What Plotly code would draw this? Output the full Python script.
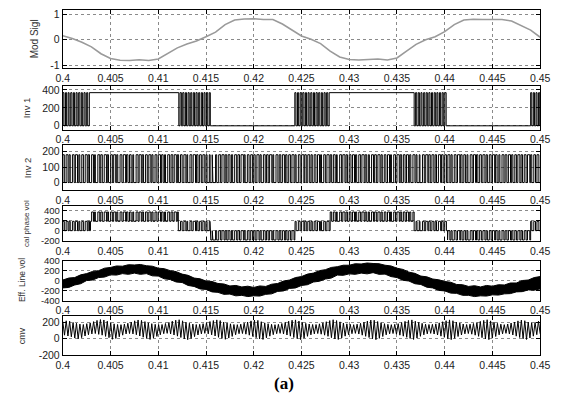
import numpy as np
import plotly.graph_objects as go

W, H = 573, 405
T0 = 0.4  # s, start of the time window; all data times below are in ms after T0

# ---------------- tick labels ----------------
x_tick_vals = [0.4, 0.405, 0.41, 0.415, 0.42, 0.425, 0.43, 0.435, 0.44, 0.445, 0.45]
x_tick_text = ["0.4", "0.405", "0.41", "0.415", "0.42", "0.425", "0.43", "0.435", "0.44", "0.445", "0.45"]

# ---------------- Mod Sigl (sampled every 1 ms) ----------------
mod_t_ms = list(range(0, 51))
mod_signal = [0.16, 0.05, -0.10, -0.28, -0.55, -0.74, -0.81, -0.82, -0.79, -0.82,
              -0.76, -0.55, -0.32, -0.17, -0.05, 0.12, 0.30, 0.60, 0.78, 0.82,
              0.83, 0.80, 0.80, 0.62, 0.38, 0.15, 0.02, -0.15, -0.45, -0.68,
              -0.78, -0.80, -0.78, -0.76, -0.80, -0.72, -0.45, -0.18, 0.00, 0.12,
              0.32, 0.60, 0.78, 0.81, 0.80, 0.81, 0.80, 0.74, 0.57, 0.38, 0.10]

# ---------------- Inv 1: high intervals (ms) ----------------
inv1_level = 370
inv1_on_ms = [
    (0.00, 0.12), (0.28, 0.40), (0.56, 0.66), (0.83, 0.96), (1.11, 1.22), (1.39, 1.50),
    (1.66, 1.79), (1.94, 2.05), (2.22, 2.34), (2.50, 2.61), (2.78, 12.15),
    (12.28, 12.42), (12.56, 12.69), (12.84, 12.96), (13.12, 13.24), (13.40, 13.51),
    (13.67, 13.80), (13.95, 14.07), (14.23, 14.34), (14.51, 14.63), (14.79, 14.90),
    (15.06, 15.18), (15.34, 15.45),
    (24.30, 24.42), (24.58, 24.70), (24.86, 24.97), (25.13, 25.26), (25.41, 25.53),
    (25.69, 25.80), (25.97, 26.09), (26.25, 26.36), (26.52, 26.65), (26.80, 26.92),
    (27.08, 27.19), (27.36, 27.48), (27.63, 27.75), (27.90, 36.80),
    (36.95, 37.07), (37.23, 37.35), (37.51, 37.62), (37.79, 37.91), (38.06, 38.18),
    (38.34, 38.46), (38.62, 38.73), (38.90, 39.02), (39.18, 39.29), (39.45, 39.57),
    (39.73, 39.85), (40.01, 40.15),
    (49.00, 49.12), (49.28, 49.40), (49.56, 49.67), (49.83, 49.95),
]

# ---------------- Inv 2: pulse starts and widths (ms) ----------------
inv2_level = 180
inv2_start_ms = [
    0.00, 0.35, 0.66, 1.01, 1.32, 1.68, 1.99, 2.35, 2.66, 3.02, 3.33, 3.67, 3.98, 4.34, 4.66,
    5.01, 5.33, 5.65, 6.00, 6.34, 6.67, 6.99, 7.33, 7.68, 8.00, 8.32, 8.67, 9.01, 9.33, 9.66,
    10.00, 10.35, 10.66, 10.99, 11.34, 11.67, 12.00, 12.33, 12.68, 13.00, 13.32, 13.66, 14.01, 14.33, 14.67,
    15.00, 15.34, 15.65, 16.00, 16.33, 16.67, 17.01, 17.32, 17.66, 18.00, 18.34, 18.67, 19.00, 19.33, 19.68,
    20.00, 20.33, 20.66, 21.01, 21.34, 21.66, 22.00, 22.33, 22.67, 23.00, 23.34, 23.66, 24.00, 24.33, 24.67,
    25.01, 25.34, 25.66, 26.00, 26.33, 26.68, 27.00, 27.33, 27.66, 28.01, 28.34, 28.66, 29.00, 29.33, 29.67,
    30.00, 30.34, 30.66, 31.00, 31.33, 31.67, 32.00, 32.34, 32.66, 33.00, 33.33, 33.67, 34.01, 34.33, 34.66,
    35.00, 35.34, 35.67, 36.00, 36.33, 36.67, 37.00, 37.33, 37.67, 38.01, 38.33, 38.66, 39.00, 39.34, 39.67,
    40.00, 40.33, 40.66, 41.00, 41.34, 41.67, 42.00, 42.33, 42.67, 43.01, 43.33, 43.66, 44.00, 44.34, 44.67,
    45.00, 45.33, 45.67, 46.00, 46.33, 46.67, 47.01, 47.34, 47.66, 48.00, 48.33, 48.67, 49.00, 49.33, 49.66,
]
inv2_width_ms = [
    0.16, 0.20, 0.12, 0.18, 0.22, 0.10, 0.17, 0.21, 0.14, 0.19, 0.08, 0.20, 0.16, 0.23, 0.13,
    0.18, 0.21, 0.11, 0.19, 0.24, 0.15, 0.17, 0.09, 0.20, 0.22, 0.14, 0.18, 0.21, 0.12, 0.19,
    0.23, 0.16, 0.10, 0.20, 0.18, 0.22, 0.13, 0.17, 0.21, 0.08, 0.19, 0.24, 0.15, 0.18, 0.20,
    0.11, 0.09, 0.07, 0.12, 0.20, 0.22, 0.16, 0.19, 0.13, 0.21, 0.17, 0.24, 0.10, 0.18, 0.20,
    0.15, 0.22, 0.12, 0.19, 0.17, 0.23, 0.09, 0.20, 0.16, 0.21, 0.14, 0.18, 0.22, 0.11, 0.19,
    0.24, 0.16, 0.20, 0.13, 0.18, 0.21, 0.10, 0.17, 0.23, 0.15, 0.19, 0.08, 0.20, 0.22, 0.14,
    0.18, 0.21, 0.12, 0.19, 0.23, 0.16, 0.11, 0.20, 0.18, 0.22, 0.13, 0.17, 0.21, 0.09, 0.19,
    0.24, 0.15, 0.18, 0.20, 0.12, 0.21, 0.10, 0.08, 0.19, 0.22, 0.16, 0.20, 0.14, 0.23, 0.17,
    0.18, 0.21, 0.12, 0.19, 0.24, 0.15, 0.17, 0.10, 0.20, 0.22, 0.14, 0.18, 0.21, 0.13, 0.19,
    0.23, 0.16, 0.11, 0.20, 0.18, 0.22, 0.13, 0.17, 0.21, 0.15, 0.19, 0.24, 0.12, 0.18, 0.20,
]

# ---------------- cal phase vol: level segments (start ms, end ms, low, high) ----------------
cal_segments = [
    (0.0, 2.9, 0, 185), (2.9, 12.1, 185, 370), (12.1, 15.5, 0, 185),
    (15.5, 24.3, -185, 0), (24.3, 28.0, 0, 185), (28.0, 36.8, 185, 370),
    (36.8, 40.3, 0, 185), (40.3, 49.0, -185, 0), (49.0, 50.01, 0, 185),
]

# ---------------- Eff. Line vol: band envelopes every 0.625 ms ----------------
eff_t_ms = [i * 0.625 for i in range(81)]
eff_upper = [10, 50, 60, 115, 140, 185, 200, 250, 265, 295, 290, 320, 315, 325, 300, 290,
             250, 240, 200, 180, 130, 105, 50, 35, -10, -20, -60, -70, -110, -100, -130, -115,
             -140, -110, -120, -75, -60, -10, 10, 60, 80, 130, 150, 200, 220, 265, 280, 310,
             310, 340, 335, 355, 345, 340, 310, 295, 250, 225, 170, 145, 90, 75, 30, 15,
             -20, -35, -80, -85, -120, -105, -130, -100, -115, -85, -90, -50, -50, 0, 10, 60,
             80]
eff_lower = [-150, -140, -90, -65, 0, 10, 60, 70, 115, 110, 140, 125, 150, 125, 140, 95,
             90, 35, 20, -30, -40, -100, -120, -170, -180, -230, -240, -280, -275, -310, -300, -325,
             -310, -315, -280, -270, -220, -210, -160, -150, -100, -85, -30, -15, 30, 50, 110, 105,
             135, 125, 150, 135, 160, 125, 130, 80, 60, 5, -10, -65, -80, -135, -150, -200,
             -210, -255, -260, -300, -300, -325, -310, -315, -290, -295, -270, -265, -230, -225, -190, -195,
             -170]

# ---------------- cmv: successive peaks and troughs ----------------
cmv_peaks = [
    205, 215, 210, 195, 185, 175, 170, 180, 190, 205, 220, 230,
    225, 210, 190, 178, 170, 168, 175, 185, 200, 215, 225, 220,
    205, 190, 180, 172, 168, 170, 182, 196, 210, 222, 228, 215,
    198, 185, 175, 170, 172, 180, 192, 206, 218, 226, 218, 200,
    188, 178, 170, 168, 174, 186, 200, 214, 224, 220, 204, 190,
    180, 172, 168, 172, 182, 196, 210, 222, 226, 212, 196, 184,
    176, 170, 170, 178, 190, 204, 218, 228, 218, 202, 188, 178,
    172, 168, 174, 184, 198, 212, 224, 222, 206, 192, 180, 172,
    168, 172, 180, 194, 208, 220, 226, 210, 196, 184, 174, 170,
    172, 178, 190, 204, 216, 226, 216, 200, 188, 176, 170, 174,
    182, 194, 208, 220, 228, 214, 198, 184, 174, 168, 176, 188,
    200, 214, 224, 216, 200, 190, 196, 210,
]
cmv_troughs = [
    40, 30, 20, 5, -5, 10, 30, 45, 55, 60, 50, 40,
    25, 10, -10, 0, 20, 40, 55, 60, 55, 45, 30, 15,
    0, -12, 5, 25, 45, 58, 62, 55, 42, 28, 12, -5,
    -15, 0, 22, 42, 56, 62, 56, 44, 30, 14, 0, -10,
    5, 25, 45, 58, 60, 52, 40, 25, 10, -5, -12, 8,
    28, 46, 58, 62, 54, 42, 28, 12, -2, -14, 4, 26,
    44, 56, 60, 52, 40, 26, 10, -6, -12, 6, 28, 46,
    58, 62, 54, 40, 26, 12, -4, -15, 2, 24, 44, 56,
    60, 52, 40, 28, 14, 0, -12, 4, 26, 44, 56, 62,
    54, 42, 28, 14, -2, -14, 2, 24, 42, 56, 60, 52,
    40, 26, 10, -6, -14, 4, 24, 44, 56, 62, 54, 42,
    28, 12, -4, -12, 6, 28, 46, 56,
]

# ---------------- panel layout (pixel rows, ranges, ticks, labels) ----------------
panels = [
    dict(title="Mod Sigl", top=5, bottom=65, yr=[-1.13, 1.18], yt=[-1, 0, 1], tx=28, fs=10, tfs=10.5),
    dict(title="Inv 1", top=83, bottom=128, yr=[-45, 445], yt=[0, 200, 400], tx=21, fs=9.5, tfs=10.5),
    dict(title="Inv 2", top=144, bottom=190, yr=[-50, 240], yt=[0, 100, 200], tx=21, fs=9.5, tfs=10.5),
    dict(title="cal phase vol", top=206, bottom=242, yr=[-205, 490], yt=[-200, 0, 200, 400], tx=20, fs=8, tfs=9.5),
    dict(title="Eff. Line vol", top=262, bottom=303, yr=[-405, 405], yt=[-400, -200, 0, 200, 400], tx=15, fs=8.5, tfs=9.5),
    dict(title="cmv", top=319, bottom=359, yr=[-203, 272], yt=[-200, 0, 200], tx=15, fs=9, tfs=10.5),
]
X_LEFT, X_RIGHT = 57.5, 549.5


def sec(ms_list):
    return [T0 + v / 1000.0 for v in ms_list]


def pulse_train(pairs, lo, hi, t_end=50.0):
    xs, ys = [0.0], [lo]
    for s, e in pairs:
        xs += [s, s, e, e]
        ys += [lo, hi, hi, lo]
    xs.append(t_end)
    ys.append(lo)
    return xs, ys


fig = go.Figure()

# 1 Mod Sigl
fig.add_trace(go.Scatter(x=sec(mod_t_ms), y=mod_signal, mode="lines",
                         line=dict(color="#9a9a9a", width=1.6), xaxis="x", yaxis="y"))

# 2 Inv 1
x1, y1 = pulse_train(inv1_on_ms, 0, inv1_level)
fig.add_trace(go.Scatter(x=sec(x1), y=y1, mode="lines",
                         line=dict(color="black", width=1), xaxis="x2", yaxis="y2"))

# 3 Inv 2
inv2_pairs = [(s, s + w) for s, w in zip(inv2_start_ms, inv2_width_ms)]
x2, y2 = pulse_train(inv2_pairs, 0, inv2_level)
fig.add_trace(go.Scatter(x=sec(x2), y=y2, mode="lines",
                         line=dict(color="black", width=1), xaxis="x3", yaxis="y3"))

# 4 cal phase vol (same carrier pulses as Inv 2, placed on the segment levels)
def seg_of(t):
    for i, (a, b, lo, hi) in enumerate(cal_segments):
        if a <= t < b:
            return i
    return len(cal_segments) - 1

cx, cy = [], []
prev = None
for s, e in inv2_pairs:
    i = seg_of(s)
    a, b, lo, hi = cal_segments[i]
    if prev is None:
        cx.append(0.0); cy.append(lo)
    elif i != prev:
        cx += [a, a]; cy += [cal_segments[prev][2], lo]
    e = min(e, b)
    cx += [s, s, e, e]
    cy += [lo, hi, hi, lo]
    prev = i
cx.append(50.0); cy.append(cal_segments[prev][2])
fig.add_trace(go.Scatter(x=sec(cx), y=cy, mode="lines",
                         line=dict(color="black", width=1), xaxis="x4", yaxis="y4"))

# 5 Eff. Line vol band
fig.add_trace(go.Scatter(x=sec(eff_t_ms + eff_t_ms[::-1]), y=eff_upper + eff_lower[::-1],
                         mode="lines", fill="toself", fillcolor="black",
                         line=dict(color="black", width=1), xaxis="x5", yaxis="y5"))

# 6 cmv zigzag
cmv_vals = []
for p, q in zip(cmv_peaks, cmv_troughs):
    cmv_vals += [p, q]
cmv_t_ms = np.linspace(0.0, 50.0, len(cmv_vals))
fig.add_trace(go.Scatter(x=sec(cmv_t_ms), y=cmv_vals, mode="lines",
                         line=dict(color="black", width=1), xaxis="x6", yaxis="y6"))

layout = dict(width=W, height=H, margin=dict(l=0, r=0, t=0, b=0),
              paper_bgcolor="white", plot_bgcolor="white", showlegend=False,
              hovermode=False, annotations=[])

for k, p in enumerate(panels, start=1):
    sx = "" if k == 1 else str(k)
    xfont = dict(family="Liberation Sans, Arial, sans-serif", size=10.5, color="#222")
    yfont = dict(family="Liberation Sans, Arial, sans-serif", size=p["tfs"], color="#222")
    layout["xaxis" + sx] = dict(
        domain=[X_LEFT / W, X_RIGHT / W], anchor="y" + sx, range=[0.4, 0.45],
        tickmode="array", tickvals=x_tick_vals, ticktext=x_tick_text,
        ticks="inside", ticklen=4, tickcolor="black", showline=True, linecolor="black",
        linewidth=1, mirror="ticks", showgrid=True, gridcolor="#8a8a8a", griddash="dot",
        gridwidth=1, zeroline=False, tickfont=xfont, fixedrange=True)
    layout["yaxis" + sx] = dict(
        domain=[1 - p["bottom"] / H, 1 - p["top"] / H], anchor="x" + sx, range=p["yr"],
        tickmode="array", tickvals=p["yt"], ticktext=[str(v) for v in p["yt"]],
        ticks="inside", ticklen=4, tickcolor="black", showline=True, linecolor="black",
        linewidth=1, mirror="ticks", showgrid=True, gridcolor="#8a8a8a", griddash="dot",
        gridwidth=1, zeroline=False, tickfont=yfont, fixedrange=True)
    layout["annotations"].append(dict(
        text=p["title"], xref="paper", yref="paper", x=p["tx"] / W,
        y=1 - (p["top"] + p["bottom"]) / 2 / H, textangle=-90, showarrow=False,
        xanchor="center", yanchor="middle",
        font=dict(family="Liberation Sans, Arial, sans-serif", size=p["fs"], color="#333")))

layout["annotations"].append(dict(
    text="<b>(a)</b>", xref="paper", yref="paper", x=285 / W, y=1 - 388 / H,
    showarrow=False, xanchor="center", yanchor="middle",
    font=dict(family="Liberation Serif, Times New Roman, serif", size=17, color="black")))

fig.update_layout(**layout)
fig.write_html("out.html", config={"displayModeBar": False})
